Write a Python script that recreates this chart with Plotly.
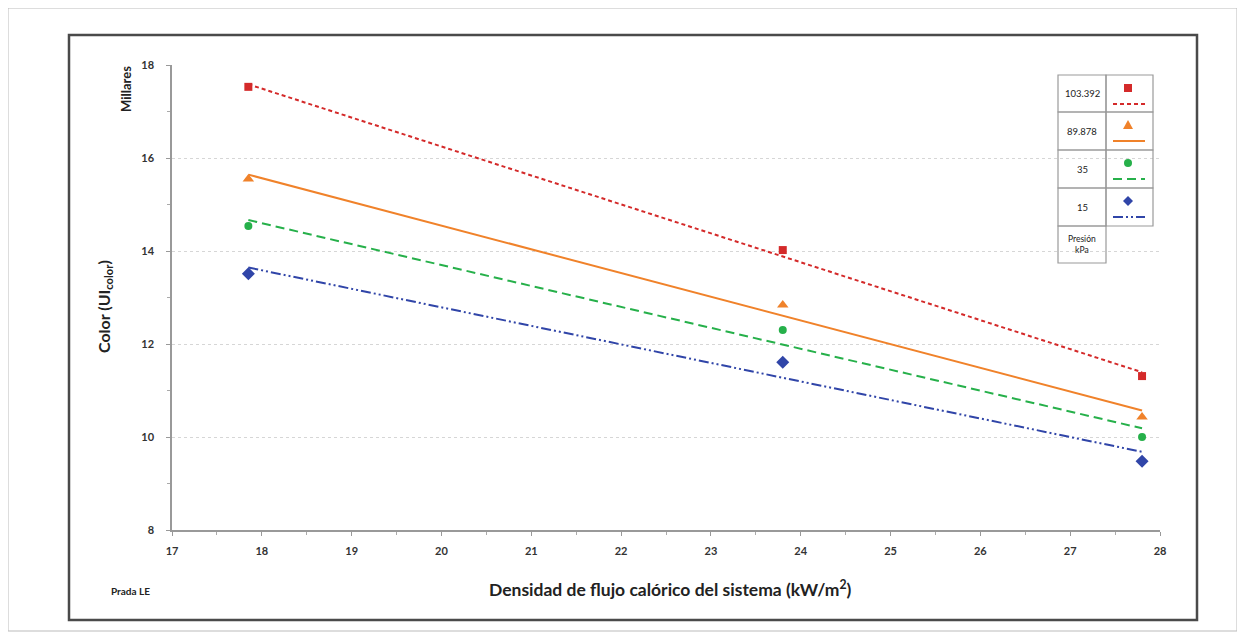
import numpy as np
import plotly.graph_objects as go

# ---- data (values in thousands, "Millares") ----
x_flux = [17.85, 23.8, 27.8]
series_names = ["103.392", "89.878", "35", "15"]
y_103392 = [17.53, 14.02, 11.31]
y_89878 = [15.55, 12.84, 10.43]
y_35 = [14.54, 12.30, 10.00]
y_15 = [13.51, 11.61, 9.48]
x_ticks = [17, 18, 19, 20, 21, 22, 23, 24, 25, 26, 27, 28]
y_ticks = [8, 10, 12, 14, 16, 18]

series_values = [y_103392, y_89878, y_35, y_15]
colors = ["#d42a2a", "#f0822a", "#26b04a", "#3045a8"]
symbols = ["square", "triangle-up", "circle", "diamond"]
msizes = [8, 10, 8, 10]
dashes = ["4px,3px", "solid", "9px,5px", "10px,3px,2px,3px,2px,3px"]

OFF = 8  # page body margin of the viewer
W, H = 1245 - OFF, 638 - OFF
L, R, T, B = 172, 1160, 65, 530  # reference pixel positions of plot area

def px(x):
    return (x - L) / (R - L)

def py(y):
    return (B - y) / (B - T)

fig = go.Figure()

for vals, col, sym, ms, dsh in zip(series_values, colors, symbols, msizes, dashes):
    xs = np.array(x_flux)
    ys = np.array(vals)
    k, b = np.polyfit(xs, ys, 1)
    xl = np.array([xs.min(), xs.max()])
    fig.add_trace(go.Scatter(x=xl, y=k * xl + b, mode="lines",
                             line=dict(color=col, width=2, dash=dsh),
                             showlegend=False, hoverinfo="skip"))
    fig.add_trace(go.Scatter(x=xs, y=ys, mode="markers",
                             marker=dict(color=col, symbol=sym, size=ms),
                             showlegend=False))

FF = "Lato, 'Open Sans', sans-serif"
tickfont = dict(size=11, color="#333", family=FF, weight="bold")

fig.update_layout(
    width=W, height=H,
    margin=dict(l=L - OFF, r=W - (R - OFF), t=T - OFF, b=H - (B - OFF)),
    paper_bgcolor="white", plot_bgcolor="white",
    font=dict(family=FF, color="#333"),
    xaxis=dict(range=[17, 28], tickvals=x_ticks, ticks="outside", ticklen=4,
               tickcolor="#999", showline=True, linecolor="#999", linewidth=1.5,
               showgrid=False, zeroline=False, tickfont=tickfont,
               ticklabelstandoff=6,
               minor=dict(dtick=0.5, ticks="outside", ticklen=3, tickcolor="#aaa")),
    yaxis=dict(range=[8, 18], tickvals=y_ticks, ticks="outside", ticklen=4,
               tickcolor="#999", showline=True, linecolor="#999", linewidth=1.5,
               showgrid=True, gridcolor="#d6d6d6", griddash="dot", gridwidth=1,
               zeroline=False, tickfont=tickfont,
               ticklabelstandoff=10,
               minor=dict(dtick=1, ticks="outside", ticklen=3, tickcolor="#aaa")),
)

shapes = []
# outer light border
shapes.append(dict(type="rect", xref="paper", yref="paper",
                   x0=px(8), x1=px(1237), y0=py(631), y1=py(8),
                   line=dict(color="#bbb", width=1), layer="below"))
# inner dark chart box
shapes.append(dict(type="rect", xref="paper", yref="paper",
                   x0=px(69), x1=px(1197), y0=py(620), y1=py(35),
                   line=dict(color="#4a4a4a", width=2.5), layer="below"))

# legend table
col_x = [1058, 1106, 1153]
row_y = [75, 112, 150, 188, 226, 263]
gray = "#9a9a9a"
for i in range(5):
    shapes.append(dict(type="rect", xref="paper", yref="paper",
                       x0=px(col_x[0]), x1=px(col_x[1]),
                       y0=py(row_y[i + 1]), y1=py(row_y[i]),
                       line=dict(color=gray, width=1.2)))
    if i < 4:
        shapes.append(dict(type="rect", xref="paper", yref="paper",
                           x0=px(col_x[1]), x1=px(col_x[2]),
                           y0=py(row_y[i + 1]), y1=py(row_y[i]),
                           line=dict(color=gray, width=1.2)))

def ann(x, y, text, size, bold=False, angle=0, xanchor="center"):
    return dict(x=px(x), y=py(y), xref="paper", yref="paper", text=text,
                showarrow=False, textangle=angle, xanchor=xanchor, yanchor="middle",
                font=dict(size=size, color="#222", family=FF,
                          weight="bold" if bold else "normal"))

annotations = []
for i, name in enumerate(series_names):
    yc = (row_y[i] + row_y[i + 1]) / 2
    annotations.append(ann((col_x[0] + col_x[1]) / 2, yc, name, 9.5))
    col = colors[i]
    cx = 1128
    my = row_y[i] + 13
    ly = row_y[i] + 29
    shapes.append(dict(type="line", xref="paper", yref="paper",
                       x0=px(1113), x1=px(1145), y0=py(ly), y1=py(ly),
                       line=dict(color=col, width=2, dash=dashes[i])))
    s = 4
    if symbols[i] == "square":
        shapes.append(dict(type="rect", xref="paper", yref="paper",
                           x0=px(cx - s), x1=px(cx + s), y0=py(my + s), y1=py(my - s),
                           fillcolor=col, line=dict(width=0)))
    elif symbols[i] == "circle":
        shapes.append(dict(type="circle", xref="paper", yref="paper",
                           x0=px(cx - s), x1=px(cx + s), y0=py(my + s), y1=py(my - s),
                           fillcolor=col, line=dict(width=0)))
    elif symbols[i] == "triangle-up":
        path = "M {} {} L {} {} L {} {} Z".format(px(cx), py(my - 5), px(cx - 5), py(my + 4),
                                                  px(cx + 5), py(my + 4))
        shapes.append(dict(type="path", xref="paper", yref="paper", path=path,
                           fillcolor=col, line=dict(width=0)))
    else:
        path = "M {} {} L {} {} L {} {} L {} {} Z".format(px(cx), py(my - 5), px(cx + 5), py(my),
                                                         px(cx), py(my + 5), px(cx - 5), py(my))
        shapes.append(dict(type="path", xref="paper", yref="paper", path=path,
                           fillcolor=col, line=dict(width=0)))

annotations.append(ann((col_x[0] + col_x[1]) / 2, (row_y[4] + row_y[5]) / 2,
                       "Presión<br>kPa", 8.5))

# axis titles
annotations.append(ann(104, 307, "Color (UI<sub>color</sub>)", 16, bold=True, angle=-90))
annotations.append(ann(126, 89, "Millares", 13, bold=True, angle=-90))
annotations.append(ann(670, 588, "Densidad de flujo calórico del sistema (kW/m<sup>2</sup>)",
                       17.5, bold=True))
annotations.append(ann(109, 591, "Prada LE", 10, bold=True, xanchor="left"))

fig.update_layout(shapes=shapes, annotations=annotations)
fig.write_html("out.html")
